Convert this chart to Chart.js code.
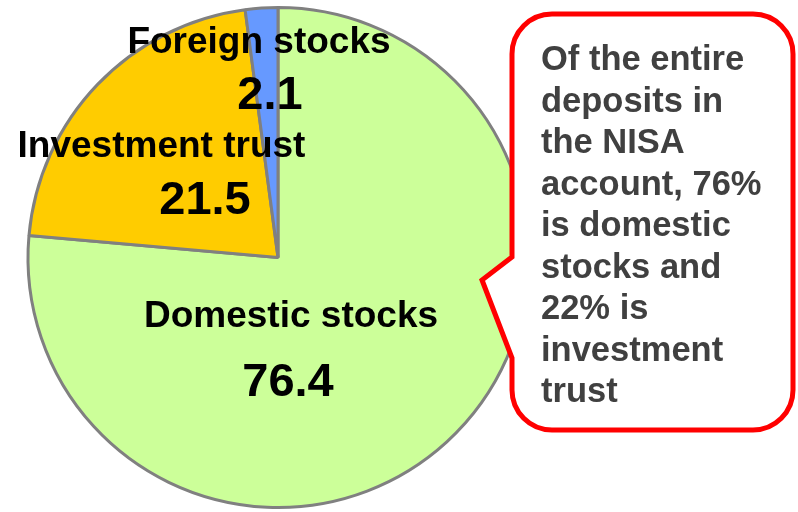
<!DOCTYPE html>
<html>
<head>
<meta charset="utf-8">
<script src="https://cdn.jsdelivr.net/npm/chart.js@4"></script>
<style>
  html, body { margin: 0; padding: 0; background: #fff; }
  #wrap { position: relative; width: 798px; height: 512px; }
</style>
</head>
<body>
<div id="wrap"><canvas id="chartPie"></canvas></div>
<script>
// chart data
const categories = ['Domestic stocks', 'Investment trust', 'Foreign stocks'];
const shares = [76.4, 21.5, 2.1];
const sliceColors = ['#ccff99', '#ffcc00', '#6699ff'];
const calloutLines = [
  'Of the entire',
  'deposits in',
  'the NISA',
  'account, 76%',
  'is domestic',
  'stocks and',
  '22% is',
  'investment',
  'trust',
];

// baseline position of each slice label, as a fraction of the radius from the centre
const labelPlacement = [
  { name: [0.052, 0.276], value: [0.04, 0.552] },
  { name: [-0.466, -0.404], value: [-0.292, -0.176] },
  { name: [-0.076, -0.82], value: [-0.032, -0.596] },
];

const FONT = '"Liberation Sans", Arial, sans-serif';

// draws the category name + value on every slice
const sliceLabels = {
  id: 'sliceLabels',
  afterDatasetsDraw(chart) {
    const ctx = chart.ctx;
    const meta = chart.getDatasetMeta(0);
    ctx.save();
    ctx.fillStyle = '#000';
    ctx.textAlign = 'center';
    ctx.textBaseline = 'alphabetic';
    meta.data.forEach((arc, i) => {
      const { x, y, outerRadius } = arc.getProps(['x', 'y', 'outerRadius'], true);
      const p = labelPlacement[i];
      ctx.font = 'bold 37px ' + FONT;
      ctx.fillText(chart.data.labels[i], x + p.name[0] * outerRadius, y + p.name[1] * outerRadius);
      ctx.font = 'bold 47px ' + FONT;
      ctx.fillText(chart.data.datasets[0].data[i].toFixed(1), x + p.value[0] * outerRadius, y + p.value[1] * outerRadius);
    });
    ctx.restore();
  }
};

// speech bubble on the right
const callout = {
  id: 'callout',
  afterDraw(chart) {
    const ctx = chart.ctx;
    const left = 512, top = 14, right = 793, bottom = 430, r = 40;
    ctx.save();
    ctx.beginPath();
    ctx.moveTo(left + r, top);
    ctx.lineTo(right - r, top);
    ctx.arcTo(right, top, right, top + r, r);
    ctx.lineTo(right, bottom - r);
    ctx.arcTo(right, bottom, right - r, bottom, r);
    ctx.lineTo(left + r, bottom);
    ctx.arcTo(left, bottom, left, bottom - r, r);
    ctx.lineTo(left, 358);
    ctx.lineTo(482, 280);
    ctx.lineTo(left, 257);
    ctx.lineTo(left, top + r);
    ctx.arcTo(left, top, left + r, top, r);
    ctx.closePath();
    ctx.fillStyle = '#fff';
    ctx.fill();
    ctx.lineWidth = 5;
    ctx.lineJoin = 'miter';
    ctx.strokeStyle = '#ff0000';
    ctx.stroke();

    ctx.fillStyle = '#404040';
    ctx.font = 'bold 34.5px ' + FONT;
    ctx.textAlign = 'left';
    ctx.textBaseline = 'alphabetic';
    calloutLines.forEach((line, i) => {
      ctx.fillText(line, 541, 70 + i * 41.5);
    });
    ctx.restore();
  }
};

const configPie = {
  type: 'pie',
  data: {
    labels: categories,
    datasets: [{
      data: shares,
      backgroundColor: sliceColors,
      borderColor: '#808080',
      borderWidth: 3,
      hoverOffset: 0,
    }],
  },
  options: {
    responsive: true,
    maintainAspectRatio: false,
    animation: false,
    layout: { padding: { top: 6, bottom: 3, left: 0, right: 242 } },
    plugins: {
      legend: { display: false },
      tooltip: { enabled: false },
    },
  },
  plugins: [sliceLabels, callout],
};

new Chart(document.getElementById('chartPie'), configPie);
</script>
</body>
</html>
